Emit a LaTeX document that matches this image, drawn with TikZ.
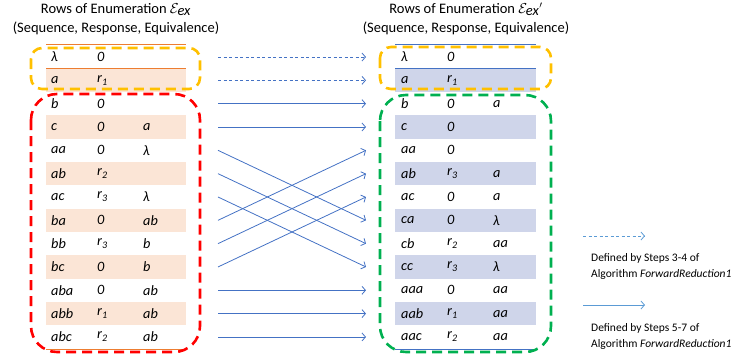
\documentclass[tikz,border=0pt]{standalone}
\usepackage{fontspec}
\setmainfont{Carlito}
\usetikzlibrary{arrows.meta}
\definecolor{peach}{HTML}{FBE5D6}
\definecolor{peachline}{HTML}{ED7D31}
\definecolor{lavender}{HTML}{CFD5EA}
\definecolor{lavline}{HTML}{4472C4}
\definecolor{arrowblue}{HTML}{4472C4}
\definecolor{legendblue}{HTML}{5B9BD5}
\definecolor{gold}{HTML}{FFC000}
\definecolor{boxred}{HTML}{FF0000}
\definecolor{boxgreen}{HTML}{00B050}
\newcommand\rsub[1]{r\raisebox{-0.45ex}{\fontsize{10}{10}\selectfont #1}}
\begin{document}
\begin{tikzpicture}[x=1pt,y=-1pt,
  titletext/.style={font=\fontsize{14.5}{19}\selectfont, align=center, inner sep=0pt},
  celltext/.style={font=\fontsize{14.3}{16}\selectfont\itshape, anchor=west, inner sep=0pt},
  legendtext/.style={font=\fontsize{11.5}{16}\selectfont, anchor=west, align=left, inner sep=0pt},
  groupbox/.style={line width=2.6pt, dash pattern=on 10pt off 6pt},
  mapping/.style={draw=arrowblue, line width=0.8pt, -{Straight Barb[length=3.5pt,width=8pt]}},
  dmapping/.style={mapping, dash pattern=on 3pt off 2.5pt},
]
\useasboundingbox (0,0) rectangle (745,360);

% column titles
\node[titletext] (tl) at (116,19) {Rows of Enumeration $\mathcal{E}_{\textit{ex}}$\\(Sequence, Response, Equivalence)};
\node[titletext] (tr) at (466,19) {Rows of Enumeration $\mathcal{E}_{\textit{ex}}{}^{\prime}$\\(Sequence, Response, Equivalence)};

% shaded rows
\foreach \i in {1,3,...,11} {
  \fill[peach] (46,{45.3+23.33*\i}) rectangle (186,{45.3+23.33*(\i+1)});
  \fill[lavender] (395,{45.3+23.33*\i}) rectangle (536,{45.3+23.33*(\i+1)});
}
% table rules
\draw[peachline, line width=0.5pt] (46,44) -- (186,44) (46,68.6) -- (186,68.6) (46,349) -- (186,349);
\draw[lavline, line width=0.5pt] (395,44) -- (536,44) (395,68.6) -- (536,68.6) (395,349) -- (536,349);

% left table entries
\foreach \i/\s/\r/\e in {0/λ/0/, 1/a/\rsub{1}/, 2/b/0/, 3/c/0/a, 4/aa/0/λ, 5/ab/\rsub{2}/,
  6/ac/\rsub{3}/λ, 7/ba/0/ab, 8/bb/\rsub{3}/b, 9/bc/0/b, 10/aba/0/ab, 11/abb/\rsub{1}/ab, 12/abc/\rsub{2}/ab} {
  \node[celltext] (ls\i) at (51,{57+23.33*\i}) {\s};
  \node[celltext] (lr\i) at (97,{57+23.33*\i}) {\r};
  \node[celltext] (le\i) at (143,{57+23.33*\i}) {\e};
  \coordinate (la\i) at (218,{57+23.33*\i});
}
% right table entries
\foreach \i/\s/\r/\e in {0/λ/0/, 1/a/\rsub{1}/, 2/b/0/a, 3/c/0/, 4/aa/0/, 5/ab/\rsub{3}/a,
  6/ac/0/a, 7/ca/0/λ, 8/cb/\rsub{2}/aa, 9/cc/\rsub{3}/λ, 10/aaa/0/aa, 11/aab/\rsub{1}/aa, 12/aac/\rsub{2}/aa} {
  \node[celltext] (rs\i) at (401,{57+23.33*\i}) {\s};
  \node[celltext] (rr\i) at (447,{57+23.33*\i}) {\r};
  \node[celltext] (re\i) at (493,{57+23.33*\i}) {\e};
  \coordinate (ra\i) at (366,{57+23.33*\i});
}

% group outlines
\draw[groupbox, gold, rounded corners=11pt] (31,48) rectangle (200,89);
\draw[groupbox, boxred, rounded corners=26pt] (31,94) rectangle (200,352);
\draw[groupbox, gold, rounded corners=11pt] (380,47) rectangle (551,89);
\draw[groupbox, boxgreen, rounded corners=26pt] (380,95) rectangle (551,352);

% row mappings
\foreach \a/\b in {0/0, 1/1} \draw[dmapping] (la\a) -- (ra\b);
\foreach \a/\b in {2/2, 3/3, 4/7, 5/8, 6/9, 7/4, 8/5, 9/6, 10/10, 11/11, 12/12}
  \draw[mapping] (la\a) -- (ra\b);

% legend
\coordinate (d1) at (583,236);
\coordinate (d2) at (645,236);
\draw[dmapping, draw=legendblue] (d1) -- (d2);
\node[legendtext] (dl) at (591,266) {Defined by Steps 3-4 of\\Algorithm \textit{ForwardReduction1}};
\coordinate (s1) at (583,305);
\coordinate (s2) at (645,305);
\draw[mapping, draw=legendblue] (s1) -- (s2);
\node[legendtext] (sl) at (591,336) {Defined by Steps 5-7 of\\Algorithm \textit{ForwardReduction1}};
\end{tikzpicture}
\end{document}
